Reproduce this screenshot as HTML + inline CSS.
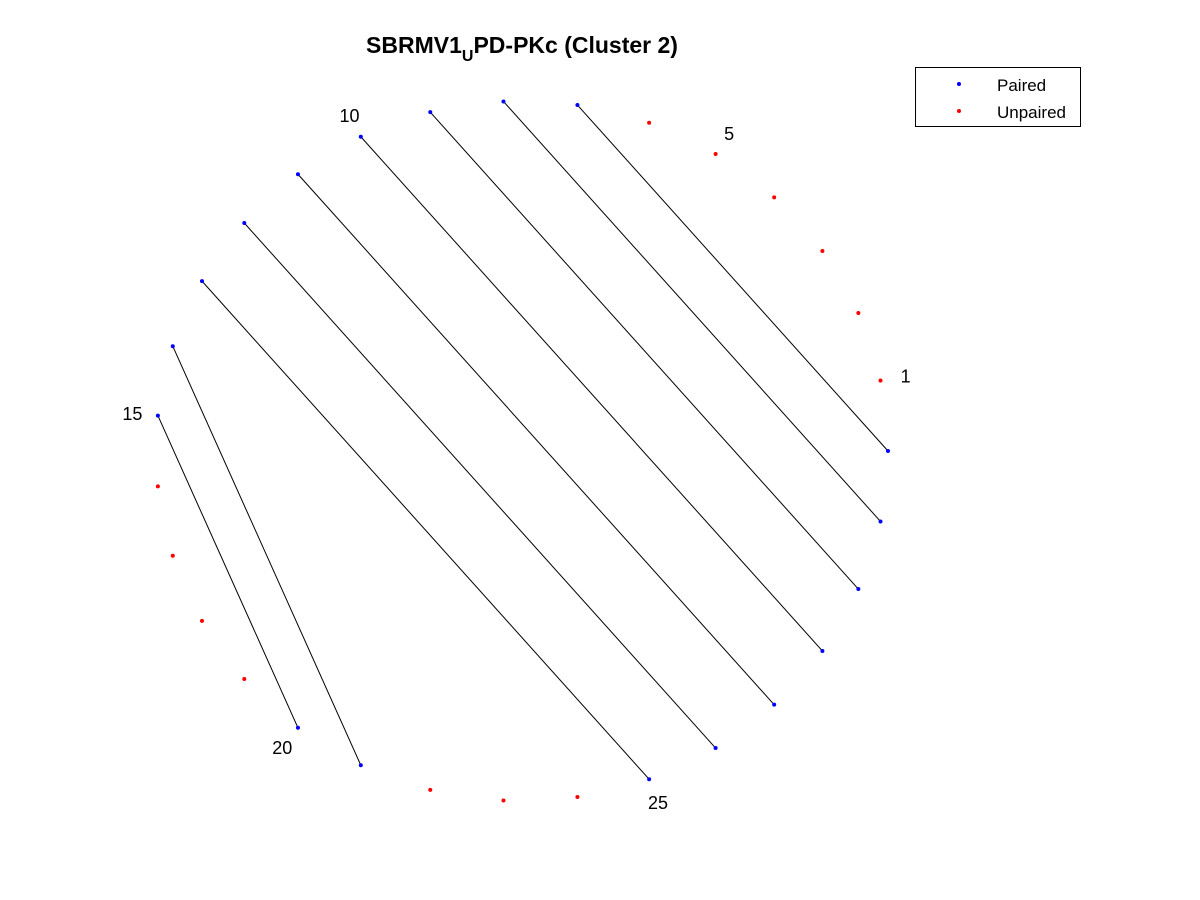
<!DOCTYPE html>
<html><head><meta charset="utf-8"><style>
body{margin:0;background:#fff;}
svg{display:block;font-family:"Liberation Sans",Arial,sans-serif;}
</style></head><body>
<svg id="chart" width="1200" height="900" viewBox="0 0 1200 900">
<rect width="1200" height="900" fill="#fff"/>
<text x="522" y="53" text-anchor="middle" font-size="23" font-weight="bold">SBRMV1<tspan font-size="16" dy="8">U</tspan><tspan dy="-8">PD-PKc (Cluster 2)</tspan></text>
<g id="lines"></g>
<g id="points"></g>
<g id="labels"></g>
<g>
<rect x="915.5" y="67.5" width="165" height="59" fill="#fff" stroke="#000" stroke-width="1"/>
<circle cx="959" cy="84" r="2" fill="#0000ff"/>
<text x="997" y="91" font-size="17">Paired</text>
<circle cx="959" cy="111" r="2" fill="#ff0000"/>
<text x="997" y="118" font-size="17">Unpaired</text>
</g>
</svg>
<script>
const nPositions = 31;
const pairStarts = [7, 8, 9, 10, 11, 12, 13, 14, 15];
const pairEnds = [31, 30, 29, 28, 27, 26, 25, 21, 20];
const labelPositions = [1, 5, 10, 15, 20, 25];

const cx = 522, cy = 451, rx = 366, ry = 350;
const NS = "http://www.w3.org/2000/svg";
function px(k, s) { return cx + rx * s * Math.cos(2 * Math.PI * k / nPositions); }
function py(k, s) { return cy - ry * s * Math.sin(2 * Math.PI * k / nPositions); }
const paired = new Set(pairStarts.concat(pairEnds));
const gl = document.getElementById('lines');
pairStarts.forEach((a, i) => {
  const b = pairEnds[i];
  const l = document.createElementNS(NS, 'line');
  l.setAttribute('x1', px(a, 1)); l.setAttribute('y1', py(a, 1));
  l.setAttribute('x2', px(b, 1)); l.setAttribute('y2', py(b, 1));
  l.setAttribute('stroke', '#000'); l.setAttribute('stroke-width', '1');
  
  
  gl.appendChild(l);
});
const gp = document.getElementById('points');
for (let k = 1; k <= nPositions; k++) {
  const c = document.createElementNS(NS, 'circle');
  c.setAttribute('cx', px(k, 1)); c.setAttribute('cy', py(k, 1)); c.setAttribute('r', '2');
  c.setAttribute('fill', paired.has(k) ? '#0000ff' : '#ff0000');
  
  
  gp.appendChild(c);
}
const gt = document.getElementById('labels');
labelPositions.forEach(k => {
  const t = document.createElementNS(NS, 'text');
  t.setAttribute('x', px(k, 1.07)); t.setAttribute('y', py(k, 1.07) + 7);
  t.setAttribute('text-anchor', 'middle'); t.setAttribute('font-size', '18');
  t.textContent = k;
  
  
  gt.appendChild(t);
});
</script>
</body></html>
